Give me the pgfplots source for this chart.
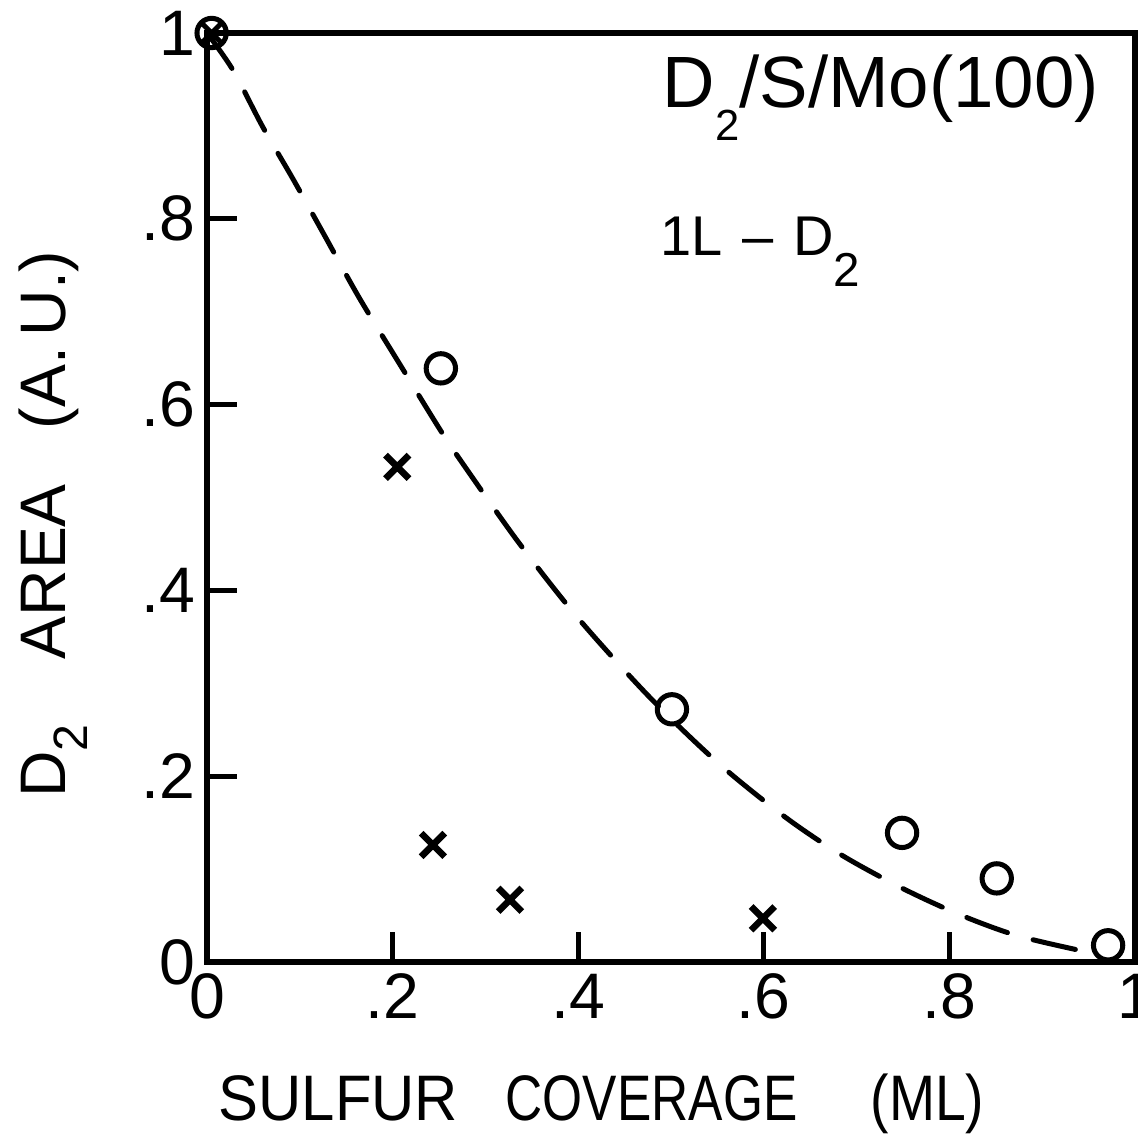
\documentclass[border=0pt]{standalone}
\usepackage{fontspec}
\setmainfont{Liberation Sans}
\usepackage{pgfplots}
\pgfplotsset{compat=1.18}
\usetikzlibrary{plotmarks}
\newcommand{\lab}{\fontsize{19.3pt}{23pt}\selectfont}
\newcommand{\sbx}[3]{\raisebox{#2}{\scalebox{#1}{#3}}}

\pgfplotstableread{
x y
0.000 1.000
0.028 0.960
0.060 0.899
0.092 0.844
0.125 0.785
0.164 0.715
0.208 0.643
0.248 0.578
0.269 0.546
0.334 0.454
0.400 0.370
0.477 0.285
0.551 0.214
0.623 0.156
0.684 0.115
0.750 0.079
0.811 0.051
0.871 0.029
0.938 0.013
0.955 0.010
}\fitcurve

\pgfplotstableread{
x y
0.252 0.639
0.501 0.272
0.749 0.139
0.851 0.090
0.971 0.018
}\circles

\pgfplotstableread{
x y
0.205 0.533
0.2435 0.126
0.3265 0.067
0.599 0.047
}\crosses

\begin{document}
\begin{tikzpicture}
\begin{axis}[
  at={(0pt,0pt)}, anchor=south west,
  scale only axis, width=278.4pt, height=278.7pt,
  xmin=0, xmax=1, ymin=0, ymax=1,
  clip=false,
  axis line style={line width=2pt},
  every tick/.style={line width=1.5pt, black},
  tick align=inside, major tick length=9pt,
  xtick pos=bottom, ytick pos=left,
  xtick={0,0.2,0.4,0.6,0.8,1}, xticklabels={0,.2,.4,.6,.8,1},
  ytick={0,0.2,0.4,0.6,0.8,1}, yticklabels={0,.2,.4,.6,.8,1},
  ticklabel style={font=\lab},
]
\addplot[black, line width=1.5pt, line cap=round, dash pattern=on 13pt off 8pt, smooth, no marks] table[x=x,y=y] {\fitcurve};
\addplot[only marks, mark=o, mark size=4.4pt, mark options={line width=1.5pt, black}] table[x=x,y=y] {\circles};
\addplot[only marks, mark=x, mark size=5pt, mark options={line width=2pt, black}] table[x=x,y=y] {\crosses};
\addplot[only marks, mark=otimes, mark size=4.4pt, mark options={line width=1.5pt, black}] coordinates {(0.005,1)};
\end{axis}
% annotations
\node[anchor=base west, inner sep=0pt, font=\fontsize{21.8pt}{26pt}\selectfont] at (136.5pt,256.2pt)
  {D\sbx{0.6}{-0.45em}{2}/S/Mo(100)};
\node[anchor=base west, inner sep=0pt, font=\fontsize{16.8pt}{20pt}\selectfont] at (135.9pt,212pt)
  {1L\hspace{0.35em}--\hspace{0.35em}D\sbx{0.85}{-0.55em}{2}};
% x label
\node[anchor=base west, inner sep=0pt, font=\lab] at (3.3pt,-47.4pt) {\scalebox{0.93}[1]{SULFUR}};
\node[anchor=base west, inner sep=0pt, font=\lab] at (89.4pt,-47.4pt) {\scalebox{0.80}[1]{COVERAGE}};
\node[anchor=base west, inner sep=0pt, font=\lab] at (198.9pt,-47.4pt) {\scalebox{0.86}[1]{(ML)}};
% y label
\node[anchor=base west, inner sep=0pt, rotate=90, font=\lab] at (-42.6pt,49pt) {D\sbx{0.75}{-0.35em}{2}};
\node[anchor=base west, inner sep=0pt, rotate=90, font=\lab] at (-42.6pt,90.6pt) {AREA};
\node[anchor=base west, inner sep=0pt, rotate=90, font=\lab] at (-42.6pt,159.6pt) {(A.\,U.)};
\pgfresetboundingbox
\useasboundingbox (-62.1pt,-55.8pt) rectangle (279.3pt,288.6pt);
\end{tikzpicture}
\end{document}
